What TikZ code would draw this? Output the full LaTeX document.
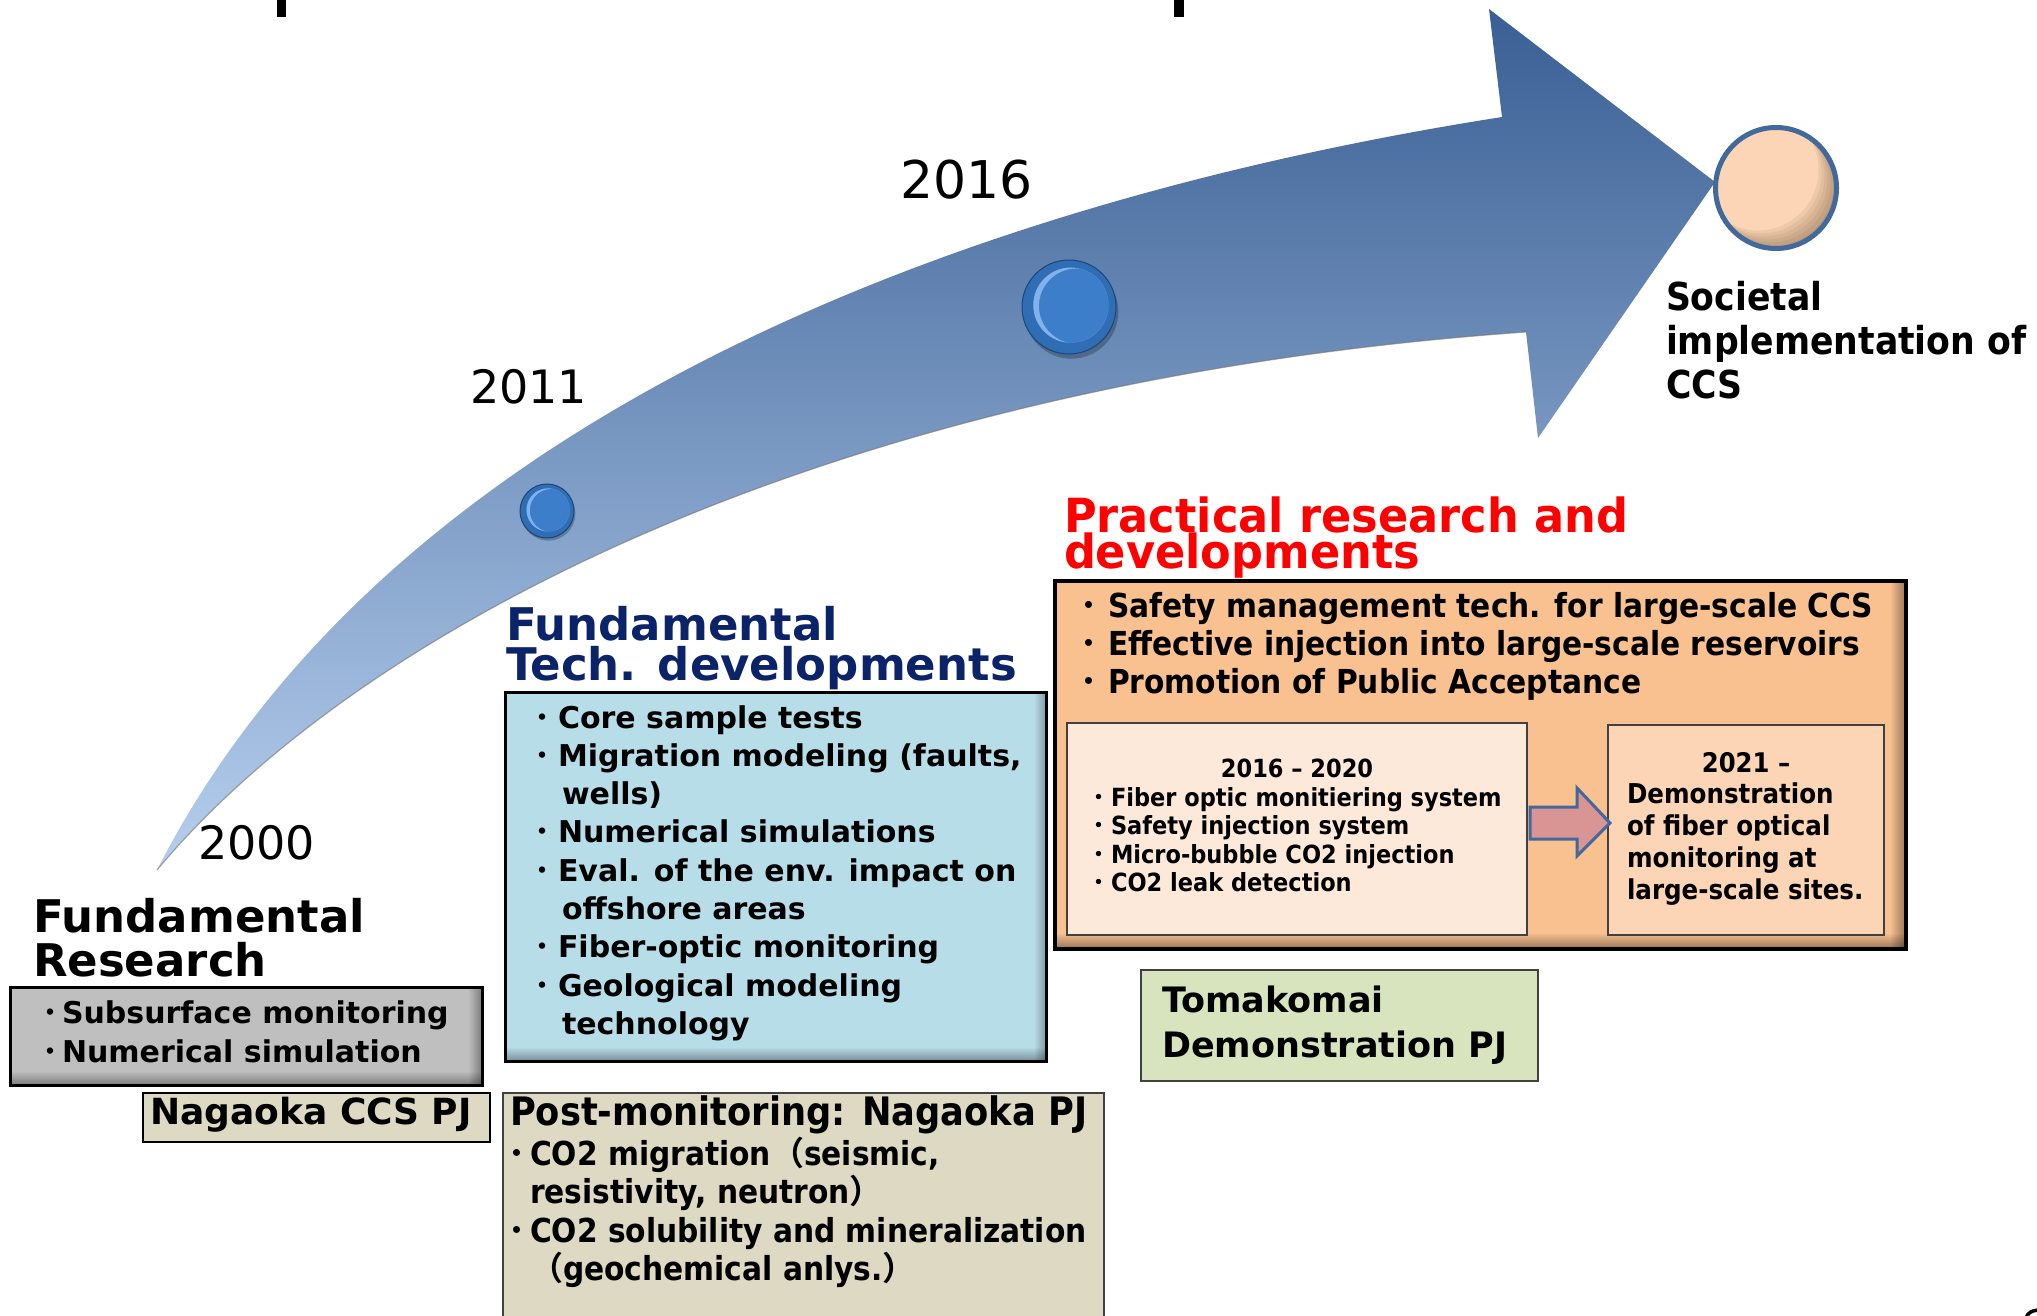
\documentclass[tikz,border=0pt]{standalone}
\usepackage{fontspec}
\setmainfont{DejaVu Sans}
\newfontfamily\vfont{DejaVu Sans Bold}
\newfontfamily\cfont{DejaVu Sans Bold}[FakeStretch=0.9]
\newfontfamily\cwfont{DejaVu Sans Bold}[FakeStretch=0.95]
\newfontfamily\rfont{DejaVu Sans}
\newfontfamily\cjk{Noto Sans CJK JP}
\newfontfamily\cjkb{Noto Sans CJK JP Bold}
\usetikzlibrary{fadings}
\definecolor{arrowdark}{HTML}{3A5F94}
\definecolor{arrowmid}{HTML}{6F93C3}
\definecolor{arrowlight}{HTML}{B6CFEE}
\definecolor{greybox}{HTML}{BFBFBF}
\definecolor{bluebox}{HTML}{B7DDE8}
\definecolor{navy}{HTML}{0B2368}
\definecolor{khaki}{HTML}{DDD9C3}
\definecolor{orangebox}{HTML}{F9C090}
\definecolor{peachlight}{HTML}{FDE9D9}
\definecolor{peach}{HTML}{FBD5B5}
\definecolor{greenbox}{HTML}{D7E4BD}
\definecolor{pinkarrow}{HTML}{D99594}
\definecolor{steel}{HTML}{41699B}
\definecolor{ballouter}{HTML}{2F6DB5}
\definecolor{ballinner}{HTML}{3D7ECA}
\definecolor{ballhi}{HTML}{8DBDF0}
\definecolor{ballrim}{HTML}{1E4574}
\definecolor{redtitle}{HTML}{FF0000}
\newcommand{\fs}[1]{\fontsize{#1}{#1}\selectfont}
\newcommand{\bul}{{\cjk ・}}
\newcommand{\tlines}[2]{\vtop{\baselineskip=#1\relax\lineskiplimit=-1000pt\relax\lineskip=0pt\relax\let\\\cr\halign{##\hfil\cr#2\crcr}}}
\newcommand{\blines}[3]{\vtop{\baselineskip=#1\relax\lineskiplimit=-1000pt\relax\lineskip=0pt\relax\let\\\cr\halign{\hbox to #2{##\hfil}&##\hfil\cr#3\crcr}}}
\newcommand{\ballat}[4]{%
  \fill[black, opacity=.25] (#2+0.05*#4, #3+0.1*#4) circle[radius=#4];
  \node[circle, inner sep=0pt, outer sep=0pt, minimum size={2*#4}, fill=ballouter, draw=ballrim, line width=1pt] (#1) at (#2,#3) {};
  \fill[ballinner] (#2+0.04*#4,#3-0.04*#4) circle[radius=0.8*#4];
  \begin{scope}
    \clip (#2+0.04*#4,#3-0.04*#4) circle[radius=0.8*#4];
    \fill[ballhi, opacity=.85, even odd rule] (#2+0.04*#4,#3-0.04*#4) circle[radius=0.8*#4] (#2+0.16*#4,#3-0.02*#4) circle[radius=0.8*#4];
  \end{scope}}
\begin{document}
\begin{tikzpicture}[x=1pt, y=-1pt,
  box/.style={rectangle, inner sep=0pt, outer sep=0pt, anchor=north west},
  txt/.style={inner sep=0pt, outer sep=0pt, anchor=base west},
  ctxt/.style={inner sep=0pt, outer sep=0pt, anchor=base}]
\fill[white] (0,0) rectangle (2037,1316);
\useasboundingbox (0,0) rectangle (2037,1316);

% cut-off title fragments
\fill[black] (277,0) rectangle (286,17);
\fill[black] (1174,0) rectangle (1184,17);
\draw[black, line width=3.5pt] (2026,1318) to[out=75,in=185] (2038,1310);

% big curved arrow
\shade[top color=arrowdark, middle color=arrowmid, bottom color=arrowlight]
  (157,870) .. controls (397,399.6) and (1002,195.5) .. (1502,117)
  -- (1489,9) -- (1715,182) -- (1538,438) -- (1526,332)
  .. controls (826,381) and (357,630) .. (157,870) -- cycle;
\draw[black!55, line width=1.2pt, opacity=.6]
  (1526,332) .. controls (826,381) and (357,630) .. (157,870);

% timeline balls
\ballat{b2011}{547}{511}{27}
\ballat{b2016}{1069}{307}{47}

% goal circle
\node[circle, inner sep=0pt, outer sep=0pt, minimum size=121pt, fill=peach] (goal) at (1776,188) {};
\begin{scope}
  \clip (goal.center) circle[radius=60.5];
  \foreach \d in {3,6,...,18}
    \fill[black!60!brown, opacity=.07, even odd rule] (1776,188) circle[radius=60.5] (1776-\d,188-\d) circle[radius=60.5];
\end{scope}
\draw[steel, line width=5pt] (goal.center) circle[radius=60.5];

% years
\node[txt, font=\rfont\fs{46}] (t2000) at (198,859) {2000};
\node[txt, font=\rfont\fs{46}] (t2011) at (470,403) {2011};
\node[txt, font=\rfont\fs{52}] (t2016) at (900,199) {2016};

% societal
\node[txt, font=\cfont\fs{38.5}] (soc) at (1666,310) {\tlines{44pt}{Societal\\implementation of\\CCS}};

% Fundamental research
\node[txt, font=\vfont\fs{45}] (frt) at (33,932) {\tlines{44pt}{Fundamental\\Research}};
\node[box, fill=greybox, minimum width=472pt, minimum height=98pt] (grey) at (10,987) {};
\fill[black, opacity=.35, path fading=north] (10,1071) rectangle (482,1085);
\fill[black, opacity=.35, path fading=west] (468,987) rectangle (482,1085);
\draw[line width=3pt] (grey.north west) rectangle (grey.south east);
\node[txt, font=\vfont\fs{30}] (grl) at (35,1023) {\blines{39pt}{27pt}{\bul&Subsurface monitoring\\\bul&Numerical simulation}};

\node[box, fill=khaki, draw=black, line width=2pt, minimum width=347pt, minimum height=49pt] (nagbox) at (143,1093) {};
\node[txt, font=\vfont\fs{36}] (nag) at (150,1124) {Nagaoka CCS PJ};

% Fundamental tech developments
\node[txt, font=\vfont\fs{45}, text=navy] (fdt) at (506,640) {\tlines{40pt}{Fundamental\\Tech. developments}};
\node[box, fill=bluebox, minimum width=541pt, minimum height=369pt] (blue) at (505,692) {};
\fill[black, opacity=.35, path fading=north] (505,1047) rectangle (1046,1061);
\fill[black, opacity=.3, path fading=west] (1034,692) rectangle (1046,1061);
\draw[line width=3pt] (blue.north west) rectangle (blue.south east);
\node[txt, font=\vfont\fs{30}] (fdl) at (527,728) {\blines{38.3pt}{31pt}{%
\bul&Core sample tests\\
\bul&Migration modeling (faults,\\
&\hspace{4pt}wells)\\
\bul&Numerical simulations\\
\bul&Eval. of the env. impact on\\
&\hspace{4pt}offshore areas\\
\bul&Fiber-optic monitoring\\
\bul&Geological modeling\\
&\hspace{4pt}technology}};

% post-monitoring
\node[box, fill=khaki, draw=black!75, line width=2pt, minimum width=601pt, minimum height=229pt] (pmbox) at (503,1093) {};
\node[txt, font=\cfont\fs{39.2}] (pmt) at (510,1125) {Post-monitoring: Nagaoka PJ};
\node[txt, font=\cfont\fs{33}] (pml) at (500.5,1165) {\blines{38.5pt}{29.5pt}{%
\bul&CO2 migration{\cjkb （}seismic,\\
&resistivity, neutron{\cjkb ）}\\
\bul&CO2 solubility and mineralization\\
&{\cjkb （}geochemical anlys.{\cjkb ）}}};

% practical research
\node[txt, font=\cwfont\fs{47}, text=redtitle] (prt) at (1064,532) {\tlines{36pt}{Practical research and\\developments}};
\node[box, fill=orangebox, minimum width=851pt, minimum height=368pt] (orange) at (1055,581) {};
\fill[black, opacity=.4, path fading=north] (1055,933) rectangle (1906,949);
\fill[black, opacity=.4, path fading=west] (1890,581) rectangle (1906,949);
\draw[line width=4pt] (orange.north west) rectangle (orange.south east);
\node[txt, font=\cfont\fs{33}] (orl) at (1072.5,617) {\blines{38pt}{35.5pt}{%
\bul&Safety management tech. for large-scale CCS\\
\bul&Effective injection into large-scale reservoirs\\
\bul&Promotion of Public Acceptance}};

\node[box, fill=peachlight, draw=black!75, line width=1.5pt, minimum width=460pt, minimum height=212pt] (inL) at (1067,723) {};
\node[ctxt, font=\cfont\fs{25}] (y1620) at (1297,777) {2016 – 2020};
\node[txt, font=\cfont\fs{25}] (inl) at (1086.5,806) {\blines{28.5pt}{24.5pt}{%
\bul&Fiber optic monitiering system\\
\bul&Safety injection system\\
\bul&Micro-bubble CO2 injection\\
\bul&CO2 leak detection}};

\node[box, fill=peach, draw=black!75, line width=1.5pt, minimum width=276pt, minimum height=210pt] (inR) at (1608,725) {};
\node[ctxt, font=\cfont\fs{27}] (y21) at (1746,772) {2021 –};
\node[txt, font=\cfont\fs{27.3}] (inr) at (1627,803) {\tlines{32pt}{Demonstration\\of fiber optical\\monitoring at\\large-scale sites.}};

\draw[fill=pinkarrow, draw=steel, line width=3pt, line join=miter]
  (1530,807) -- (1577,807) -- (1577,788) -- (1610,823) -- (1577,856) -- (1577,839) -- (1530,839) -- cycle;

% Tomakomai
\node[box, fill=greenbox, draw=black!75, line width=2pt, minimum width=397pt, minimum height=111pt] (tombox) at (1141,970) {};
\node[txt, font=\vfont\fs{35}] (tom) at (1162,1012) {\tlines{45pt}{Tomakomai\\Demonstration PJ}};
\end{tikzpicture}
\end{document}
